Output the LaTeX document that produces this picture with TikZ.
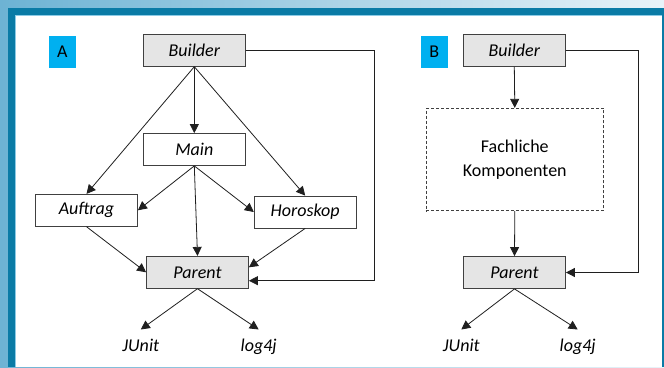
\documentclass[tikz,border=0pt]{standalone}
\usepackage{fontspec}
\setmainfont{Carlito}
\usetikzlibrary{arrows.meta}
\definecolor{hglinks}{HTML}{6DB3D4}
\definecolor{hgrechts}{HTML}{E8F3F9}
\definecolor{rahmen}{HTML}{0A7BA6}
\definecolor{rahmenhell}{HTML}{8CCBE6}
\definecolor{boxgrau}{HTML}{E5E5E5}
\definecolor{boxrand}{HTML}{404040}
\definecolor{linie}{HTML}{1F1F1F}
\definecolor{markeblau}{HTML}{00B0F0}
\begin{document}
\fontsize{18}{24}\selectfont
\begin{tikzpicture}[x=1pt,y=-1pt,
	modul/.style={draw=boxrand,fill=white,line width=0.8pt,minimum width=102pt,minimum height=32pt,inner sep=0pt,font=\itshape},
	grau/.style={modul,fill=boxgrau},
	marke/.style={fill=markeblau,minimum width=26.7pt,minimum height=31.7pt,inner sep=0pt},
	lib/.style={font=\itshape,inner sep=0pt,inner ysep=10pt,text height=12pt,text depth=4pt,anchor=base},
	pfeil/.style={draw=linie,line width=0.8pt,-{Triangle[length=9pt,width=9pt]}}]
			\useasboundingbox (0,0) rectangle (664,367);

			% Rahmen
			\shade[left color=hglinks,right color=hgrechts] (0,0) rectangle (664,367);
			\fill[rahmen] (7.5,7.5) rectangle (664,367);
			\fill[white] (15,15) rectangle (662,367);
			\draw[rahmenhell,line width=0.8pt] (15.4,367) -- (15.4,15.4) -- (661.6,15.4);

			% Variante A
			\node[marke] (labA) at (62.3,51.8) {A};
			\node[grau] (buildA) at (194.3,50.3) {Builder};
			\node[modul] (mainA) at (194.3,149.5) {Main};
			\node[modul] (auftrag) at (86.5,210.3) {Auftrag};
			\node[modul] (horoskop) at (305.2,212) {Horoskop};
			\node[grau] (parentA) at (197.5,272.3) {Parent};
			\node[lib] (junitA) at (140.8,351.7) {JUnit};
			\node[lib] (logA) at (258.7,351.7) {log4j};

			\draw[pfeil] (buildA.south) -- (mainA.north);
			\draw[pfeil] (buildA.south) -- (auftrag.north);
			\draw[pfeil] (buildA.south) -- (horoskop.north);
			\draw[pfeil] (mainA.south) -- (auftrag.east);
			\draw[pfeil] (mainA.south) -- (horoskop.west);
			\draw[pfeil] (mainA.south) -- (parentA.north);
			\draw[pfeil] (auftrag.south) -- (parentA.west);
			\draw[pfeil] (horoskop.south) -- ([yshift=5pt]parentA.east);
			\coordinate (eckeA) at (374,50.3);
			\draw[pfeil] (buildA.east) -- (eckeA) |- ([yshift=-8.4pt]parentA.east);
			\draw[pfeil] (parentA.south) -- (junitA.north);
			\draw[pfeil] (parentA.south) -- (logA.north);

			% Variante B
			\node[marke] (labB) at (434.3,51.8) {B};
			\node[grau] (buildB) at (514.3,50.3) {Builder};
			\node[draw=boxrand,dash pattern=on 3pt off 2pt,line width=0.8pt,minimum width=177.7pt,minimum height=102.4pt,align=center] (fach) at (514.8,159.5) {Fachliche\\Komponenten};
			\node[grau] (parentB) at (514.5,272.5) {Parent};
			\node[lib] (junitB) at (461.3,351.7) {JUnit};
			\node[lib] (logB) at (577.7,351.7) {log4j};

			\draw[pfeil] (buildB.south) -- (fach.north);
			\draw[pfeil] (fach.south) -- (parentB.north);
			\coordinate (eckeB) at (638.7,50.3);
			\draw[pfeil] (buildB.east) -- (eckeB) |- (parentB.east);
			\draw[pfeil] (parentB.south) -- (junitB.north);
			\draw[pfeil] (parentB.south) -- (logB.north);
		\end{tikzpicture}
\end{document}
